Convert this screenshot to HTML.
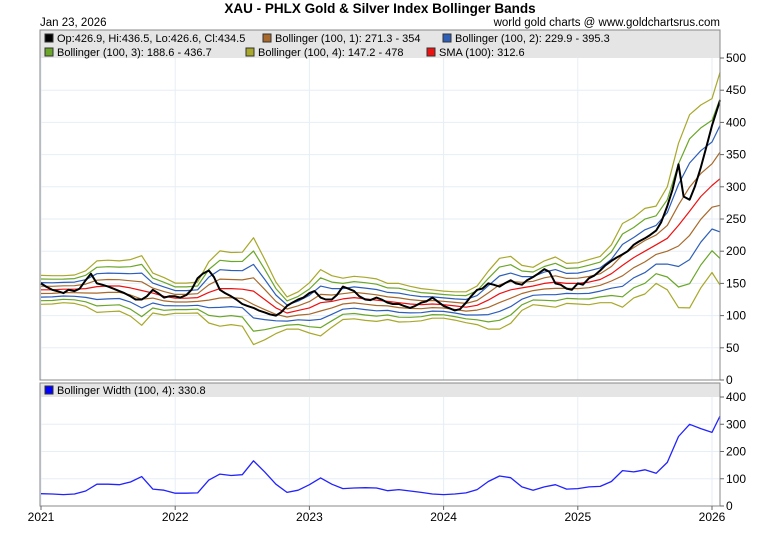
<!DOCTYPE html>
<html><head><meta charset="utf-8"><style>
body{margin:0;background:#fff;}
svg{display:block;font-family:"Liberation Sans",Arial,sans-serif;}
</style></head><body>
<svg id="c" width="760" height="542">
<text x="380" y="13" text-anchor="middle" font-size="13.5" font-weight="bold">XAU - PHLX Gold &amp; Silver Index Bollinger Bands</text>
<text x="40" y="26" font-size="11.5">Jan 23, 2026</text>
<text x="720" y="26" font-size="11.5" text-anchor="end">world gold charts @ www.goldchartsrus.com</text>
<g id="grid"></g>
<rect x="40" y="30" width="680" height="28" fill="#e5e5e5"/>
<rect x="40" y="383" width="680" height="14" fill="#e5e5e5"/>
<g id="series"></g>
<rect x="40" y="30" width="680" height="350" fill="none" stroke="#888"/>
<rect x="40" y="383" width="680" height="123" fill="none" stroke="#888"/>
<g font-size="11">
<rect x="45" y="34" width="8" height="8" fill="#000" stroke="#333"/><text x="57" y="42">Op:426.9, Hi:436.5, Lo:426.6, Cl:434.5</text>
<rect x="263" y="34" width="8" height="8" fill="#a8692b" stroke="#333"/><text x="275" y="42">Bollinger (100, 1): 271.3 - 354</text>
<rect x="443" y="34" width="8" height="8" fill="#2e5fb8" stroke="#333"/><text x="455" y="42">Bollinger (100, 2): 229.9 - 395.3</text>
<rect x="45" y="48" width="8" height="8" fill="#6aa628" stroke="#333"/><text x="57" y="56">Bollinger (100, 3): 188.6 - 436.7</text>
<rect x="246" y="48" width="8" height="8" fill="#a8a82a" stroke="#333"/><text x="258" y="56">Bollinger (100, 4): 147.2 - 478</text>
<rect x="427" y="48" width="8" height="8" fill="#ee1111" stroke="#333"/><text x="439" y="56">SMA (100): 312.6</text>
</g>
<g font-size="11">
<rect x="45" y="386" width="8" height="8" fill="#0000ff" stroke="#333"/><text x="57" y="394">Bollinger Width (100, 4): 330.8</text>
</g>
<g id="axes" font-size="12"></g>
</svg>
<script>
const years=["2021","2022","2023","2024","2025","2026"];
const mainTicks=[0,50,100,150,200,250,300,350,400,450,500];
const widthTicks=[0,100,200,300,400];
// monthly (Jan 2021 .. Jan 2026) + final point Jan 23 2026
const smaVals=[140,140,141,141,142,145,146,146,143,139,135,130,
127,127,128,136,142,142,141,138,125,112,104,108,
112,120,122,126,128,126,124,122,120,118,117,118,
117,115,113,116,124,134,140,143,146,150,152,150,
150,152,156,165,178,190,200,210,220,240,262,285,
302,312.6];
const widthVals=[45,44,42,44,55,80,80,78,88,108,62,58,
47,47,48,95,117,112,115,166,125,80,50,58,
78,103,80,64,66,67,66,56,60,55,50,44,
42,44,48,60,90,110,104,70,58,70,78,62,
64,70,72,90,130,125,133,120,160,255,300,284,
270,330.8];
// semi-monthly closes (1st & 15th) Jan 2021 .. Jan 2026 + Jan 23 2026
const closeVals=[150,145,140,138,135,140,138,142,155,165,150,148,145,142,138,135,130,125,125,130,140,135,128,130,
130,128,132,140,158,165,170,160,140,135,130,125,118,115,112,108,105,102,100,105,115,120,125,128,
135,138,128,125,125,132,145,142,138,130,125,124,128,125,120,118,118,115,112,115,120,122,128,122,
115,112,108,110,120,130,140,142,150,148,145,150,155,150,148,155,160,165,172,168,150,148,142,140,
150,148,158,162,170,178,185,190,195,200,210,215,220,225,232,245,270,295,335,285,280,300,330,360,
395,434.5];

const NS="http://www.w3.org/2000/svg";
const X0=41,X1=712;
function xScale(t){return X0+(t-2021)*(X1-X0)/5;}
function yMain(v){return 380-v*0.644;}
function yW(v){return 506-v*0.2725;}
const endT=2026+22/365;
function tMonthly(i){return i<61?2021+i/12:endT;}
function tSemi(i){return i<121?2021+Math.floor(i/2)/12+(i%2)*14/365:endT;}
const grid=document.getElementById('grid'),series=document.getElementById('series'),axes=document.getElementById('axes');
function mk(tag,attrs,parent){const e=document.createElementNS(NS,tag);for(const k in attrs)e.setAttribute(k,attrs[k]);parent.appendChild(e);return e;}
mainTicks.forEach(v=>{if(v>0&&v<500){const l=mk('line',{x1:40,x2:720,y1:yMain(v),y2:yMain(v),stroke:'#e6eef6'},grid);

}});
widthTicks.forEach(v=>{if(v>0&&v<400){const l=mk('line',{x1:40,x2:720,y1:yW(v),y2:yW(v),stroke:'#e6eef6'},grid);

}});
years.forEach(y=>{const x=xScale(+y);[[30,380],[383,506]].forEach(r=>{const l=mk('line',{x1:x,x2:x,y1:r[0],y2:r[1],stroke:'#e6eef6'},grid);

});});
function poly(vals,tf,yf,color,w,name){
  const pts=vals.map((v,i)=>xScale(tf(i)).toFixed(1)+','+yf(v).toFixed(1)).join(' ');
  const p=mk('polyline',{points:pts,fill:'none',stroke:color,'stroke-width':w,'stroke-linejoin':'round'},series);
  
  
}
const bandColors=['#a8692b','#2e5fb8','#6aa628','#a8a82a'];
for(let k=4;k>=1;k--){
  poly(smaVals.map((s,i)=>s+k*widthVals[i]/8),tMonthly,yMain,bandColors[k-1],1.2,'bollinger-upper-'+k);
  poly(smaVals.map((s,i)=>s-k*widthVals[i]/8),tMonthly,yMain,bandColors[k-1],1.2,'bollinger-lower-'+k);
}
poly(smaVals,tMonthly,yMain,'#ee1111',1.2,'sma-100-line');
poly(closeVals,tSemi,yMain,'#000',2,'price-line');
poly(widthVals,tMonthly,yW,'#2222ff',1.3,'bollinger-width-line');
mainTicks.forEach(v=>{const y=yMain(v);
  mk('line',{x1:720,x2:724,y1:y,y2:y,stroke:'#666'},axes);
  const t=mk('text',{x:726,y:y+4},axes);t.textContent=v;
  
  });
widthTicks.forEach(v=>{const y=yW(v);
  mk('line',{x1:720,x2:724,y1:y,y2:y,stroke:'#666'},axes);
  const t=mk('text',{x:726,y:y+4},axes);t.textContent=v;
  
  });
years.forEach(y=>{const x=xScale(+y);
  mk('line',{x1:x,x2:x,y1:506,y2:510,stroke:'#666'},axes);
  const t=mk('text',{x:x,y:521,'text-anchor':'middle'},axes);t.textContent=y;
  
  });
</script>
</body></html>
